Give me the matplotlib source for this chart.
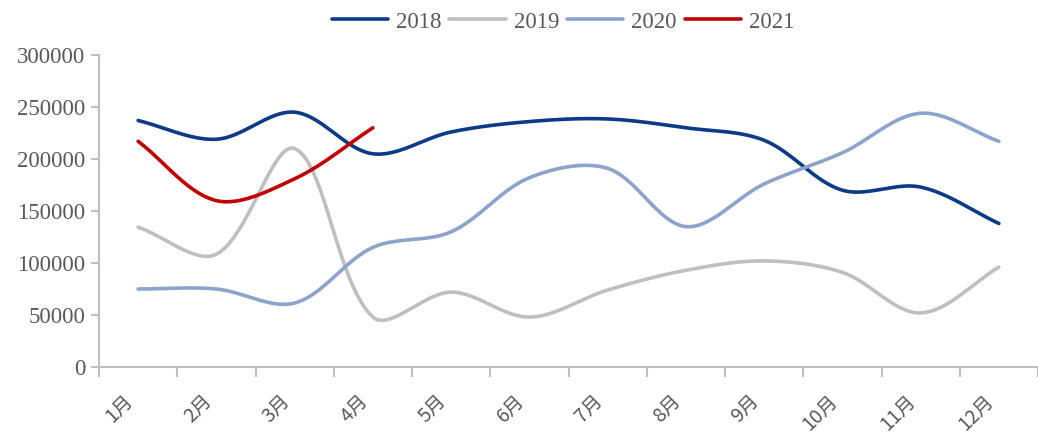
import numpy as np
import matplotlib
matplotlib.use("Agg")
import matplotlib.pyplot as plt

months = ["1月", "2月", "3月", "4月", "5月", "6月", "7月", "8月", "9月", "10月", "11月", "12月"]
y2018 = [237000, 219000, 245000, 205000, 226000, 236000, 238500, 230000, 218000, 170000, 173000, 138000]
y2019 = [134500, 108500, 210000, 48000, 72000, 48000, 74000, 93000, 102000, 91000, 52000, 96000]
y2020 = [75000, 75000, 61500, 115000, 130000, 182000, 191000, 135000, 176000, 206000, 244000, 217000]
y2021 = [217000, 160000, 181000, 230000]

series = [("2018", y2018, "#0b3a87"),
          ("2019", y2019, "#bfbfbf"),
          ("2020", y2020, "#8da3cb"),
          ("2021", y2021, "#c00000")]

# pixel scale, used only so the smoothing behaves like excel's
step = 78.8           # px per month
ypx = 312 / 300000    # px per unit


def smooth(vals, n=40):
    # bezier through the points, control arms split by segment length
    P = np.column_stack([np.arange(len(vals)) * step, np.asarray(vals, float) * ypx])
    xs, ys = [], []
    t = np.linspace(0, 1, n)[:, None]
    for i in range(len(P) - 1):
        p1, p2 = P[i], P[i + 1]
        p0 = P[i - 1] if i > 0 else p1
        p3 = P[i + 2] if i + 2 < len(P) else p2
        d01 = np.hypot(*(p1 - p0))
        d12 = np.hypot(*(p2 - p1))
        d23 = np.hypot(*(p3 - p2))
        c1 = p1 + (p2 - p0) * (d12 / (d01 + d12)) / 3 if d01 > 0 else p1 + (p2 - p1) / 3
        c2 = p2 - (p3 - p1) * (d12 / (d12 + d23)) / 3 if d23 > 0 else p2 - (p2 - p1) / 3
        seg = ((1 - t) ** 3 * p1 + 3 * (1 - t) ** 2 * t * c1
               + 3 * (1 - t) * t ** 2 * c2 + t ** 3 * p2)
        xs.extend(seg[:, 0] / step)
        ys.extend(seg[:, 1] / ypx)
    return xs, ys


fig = plt.figure(figsize=(10.38, 4.33), dpi=100)
ax = fig.add_axes([99 / 1038, 66 / 433, (1038 - 99) / 1038, 312 / 433])

for name, vals, col in series:
    sx, sy = smooth(vals)
    ax.plot(sx, sy, color=col, lw=2.6, label=name, solid_capstyle="round")

ax.set_xlim(-0.5, (1038 - 99) / step - 0.5)
ax.set_ylim(0, 300000)

grey = "#bfbfbf"
for s in ["top", "right"]:
    ax.spines[s].set_visible(False)
for s in ["left", "bottom"]:
    ax.spines[s].set_color(grey)
    ax.spines[s].set_linewidth(1.5)

ax.set_yticks(range(0, 300001, 50000))
ax.set_yticklabels([str(v) for v in range(0, 300001, 50000)],
                   family="Liberation Serif", fontsize=16.5, color="#595959")
ax.tick_params(axis="y", length=6, width=1.5, color=grey, pad=4)

ax.set_xticks(np.arange(-0.5, 12, 1.0))
ax.set_xticklabels([])
ax.tick_params(axis="x", length=7, width=1.5, color=grey)
for i, m in enumerate(months):
    ax.text(i - 0.1, -0.1, m, transform=ax.get_xaxis_transform(),
            rotation=45, rotation_mode="anchor", ha="right", va="center",
            family=["Noto Sans CJK SC", "DejaVu Sans"], fontsize=14, color="#595959")

leg = fig.legend(loc="center", bbox_to_anchor=(563 / 1038, 1 - 22 / 433), ncol=4,
                 frameon=False, handlelength=2.45, handletextpad=0.35, columnspacing=0.35,
                 prop={"family": "Liberation Serif", "size": 16.5})
for t in leg.get_texts():
    t.set_color("#595959")

fig.savefig("out.png", dpi=100)
